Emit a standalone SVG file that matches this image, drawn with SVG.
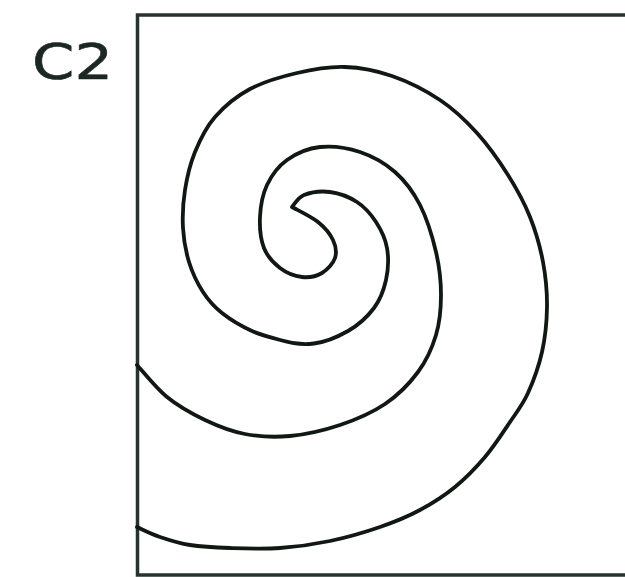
<svg xmlns="http://www.w3.org/2000/svg" width="625" height="577" viewBox="0 0 625 577">
<style>
.frame{fill:none;stroke:#26332f;stroke-width:3.5}
.spiral{fill:none;stroke:#111814;stroke-width:3.8;stroke-linecap:round;stroke-linejoin:round}
.lbl{font-family:"DejaVu Sans",sans-serif;font-size:50px;fill:#1c2622;stroke:#1c2622;stroke-width:0.6}
</style>
<rect width="625" height="577" fill="#ffffff"/>
<g id="label"><text class="lbl" x="32" y="79" textLength="81" lengthAdjust="spacingAndGlyphs">C2</text></g>
<g id="frame"><rect class="frame" x="137.5" y="15" width="520" height="560"/></g>
<g id="spiral">
<path class="spiral" d="M137,365 C142,370.3 155.7,387.8 167,397 C178.3,406.2 192,413.8 205,420 C218,426.2 230.8,431.3 245,434 C259.2,436.7 274.2,437.5 290,436 C305.8,434.5 324.2,430.3 340,425 C355.8,419.7 372,412.8 385,404 C398,395.2 409.5,383.5 418,372 C426.5,360.5 432.2,347.8 436,335 C439.8,322.2 441,308.8 441,295 C441,281.2 439.5,267 436,252 C432.5,237 426.8,218.3 420,205 C413.2,191.7 405,180.8 395,172 C385,163.2 372.5,156.2 360,152 C347.5,147.8 332.2,145.7 320,147 C307.8,148.3 295.8,153.7 287,160 C278.2,166.3 271.5,175.5 267,185 C262.5,194.5 260.5,206.5 260,217 C259.5,227.5 260.7,239.5 264,248 C267.3,256.5 273.7,263.2 280,268 C286.3,272.8 295,276.2 302,277 C309,277.8 316.5,276.2 322,273 C327.5,269.8 333.2,263.5 335,258 C336.8,252.5 335.8,246 333,240 C330.2,234 324.8,227.5 318,222 C311.2,216.5 296.3,209.5 292,207 C294,205 297.7,197.5 304,195 C310.3,192.5 321.2,190.8 330,192 C338.8,193.2 349.3,197 357,202 C364.7,207 371,214.3 376,222 C381,229.7 385.3,238.3 387,248 C388.7,257.7 388.2,270 386,280 C383.8,290 380.3,299.5 374,308 C367.7,316.5 358.5,325 348,331 C337.5,337 326,342 314,343.5 C302,345 292,343.5 282,340.5 C272,337.5 262,335.5 252,331 C242,326.5 230.2,319.5 222,313 C213.8,306.5 208.5,300.5 203,292 C197.5,283.5 192.3,272.7 189,262 C185.7,251.3 183.7,240 183,228 C182.3,216 183,202.7 185,190 C187,177.3 190,164.2 195,152 C200,139.8 205.8,127.5 215,117 C224.2,106.5 236.3,96.3 250,89 C263.7,81.7 281.2,76.7 297,73 C312.8,69.3 329.2,66.5 345,67 C360.8,67.5 376.2,70.5 392,76 C407.8,81.5 425.8,90.5 440,100 C454.2,109.5 465.7,120.5 477,133 C488.3,145.5 499.2,161 508,175 C516.8,189 524.2,202.5 530,217 C535.8,231.5 540.2,247 543,262 C545.8,277 547.2,292 547,307 C546.8,322 545.2,337.7 542,352 C538.8,366.3 533.3,381.3 528,393 C522.7,404.7 517.2,411.3 510,422 C502.8,432.7 494.2,446.2 485,457 C475.8,467.8 465.8,478.2 455,487 C444.2,495.8 432.5,503.3 420,510 C407.5,516.7 395,521.8 380,527 C365,532.2 346.7,537.5 330,541 C313.3,544.5 296.7,546.8 280,548 C263.3,549.2 245,548.5 230,548 C215,547.5 201.7,546.8 190,545 C178.3,543.2 168.8,540 160,537 C151.2,534 140.8,528.7 137,527"/>
</g>
</svg>
